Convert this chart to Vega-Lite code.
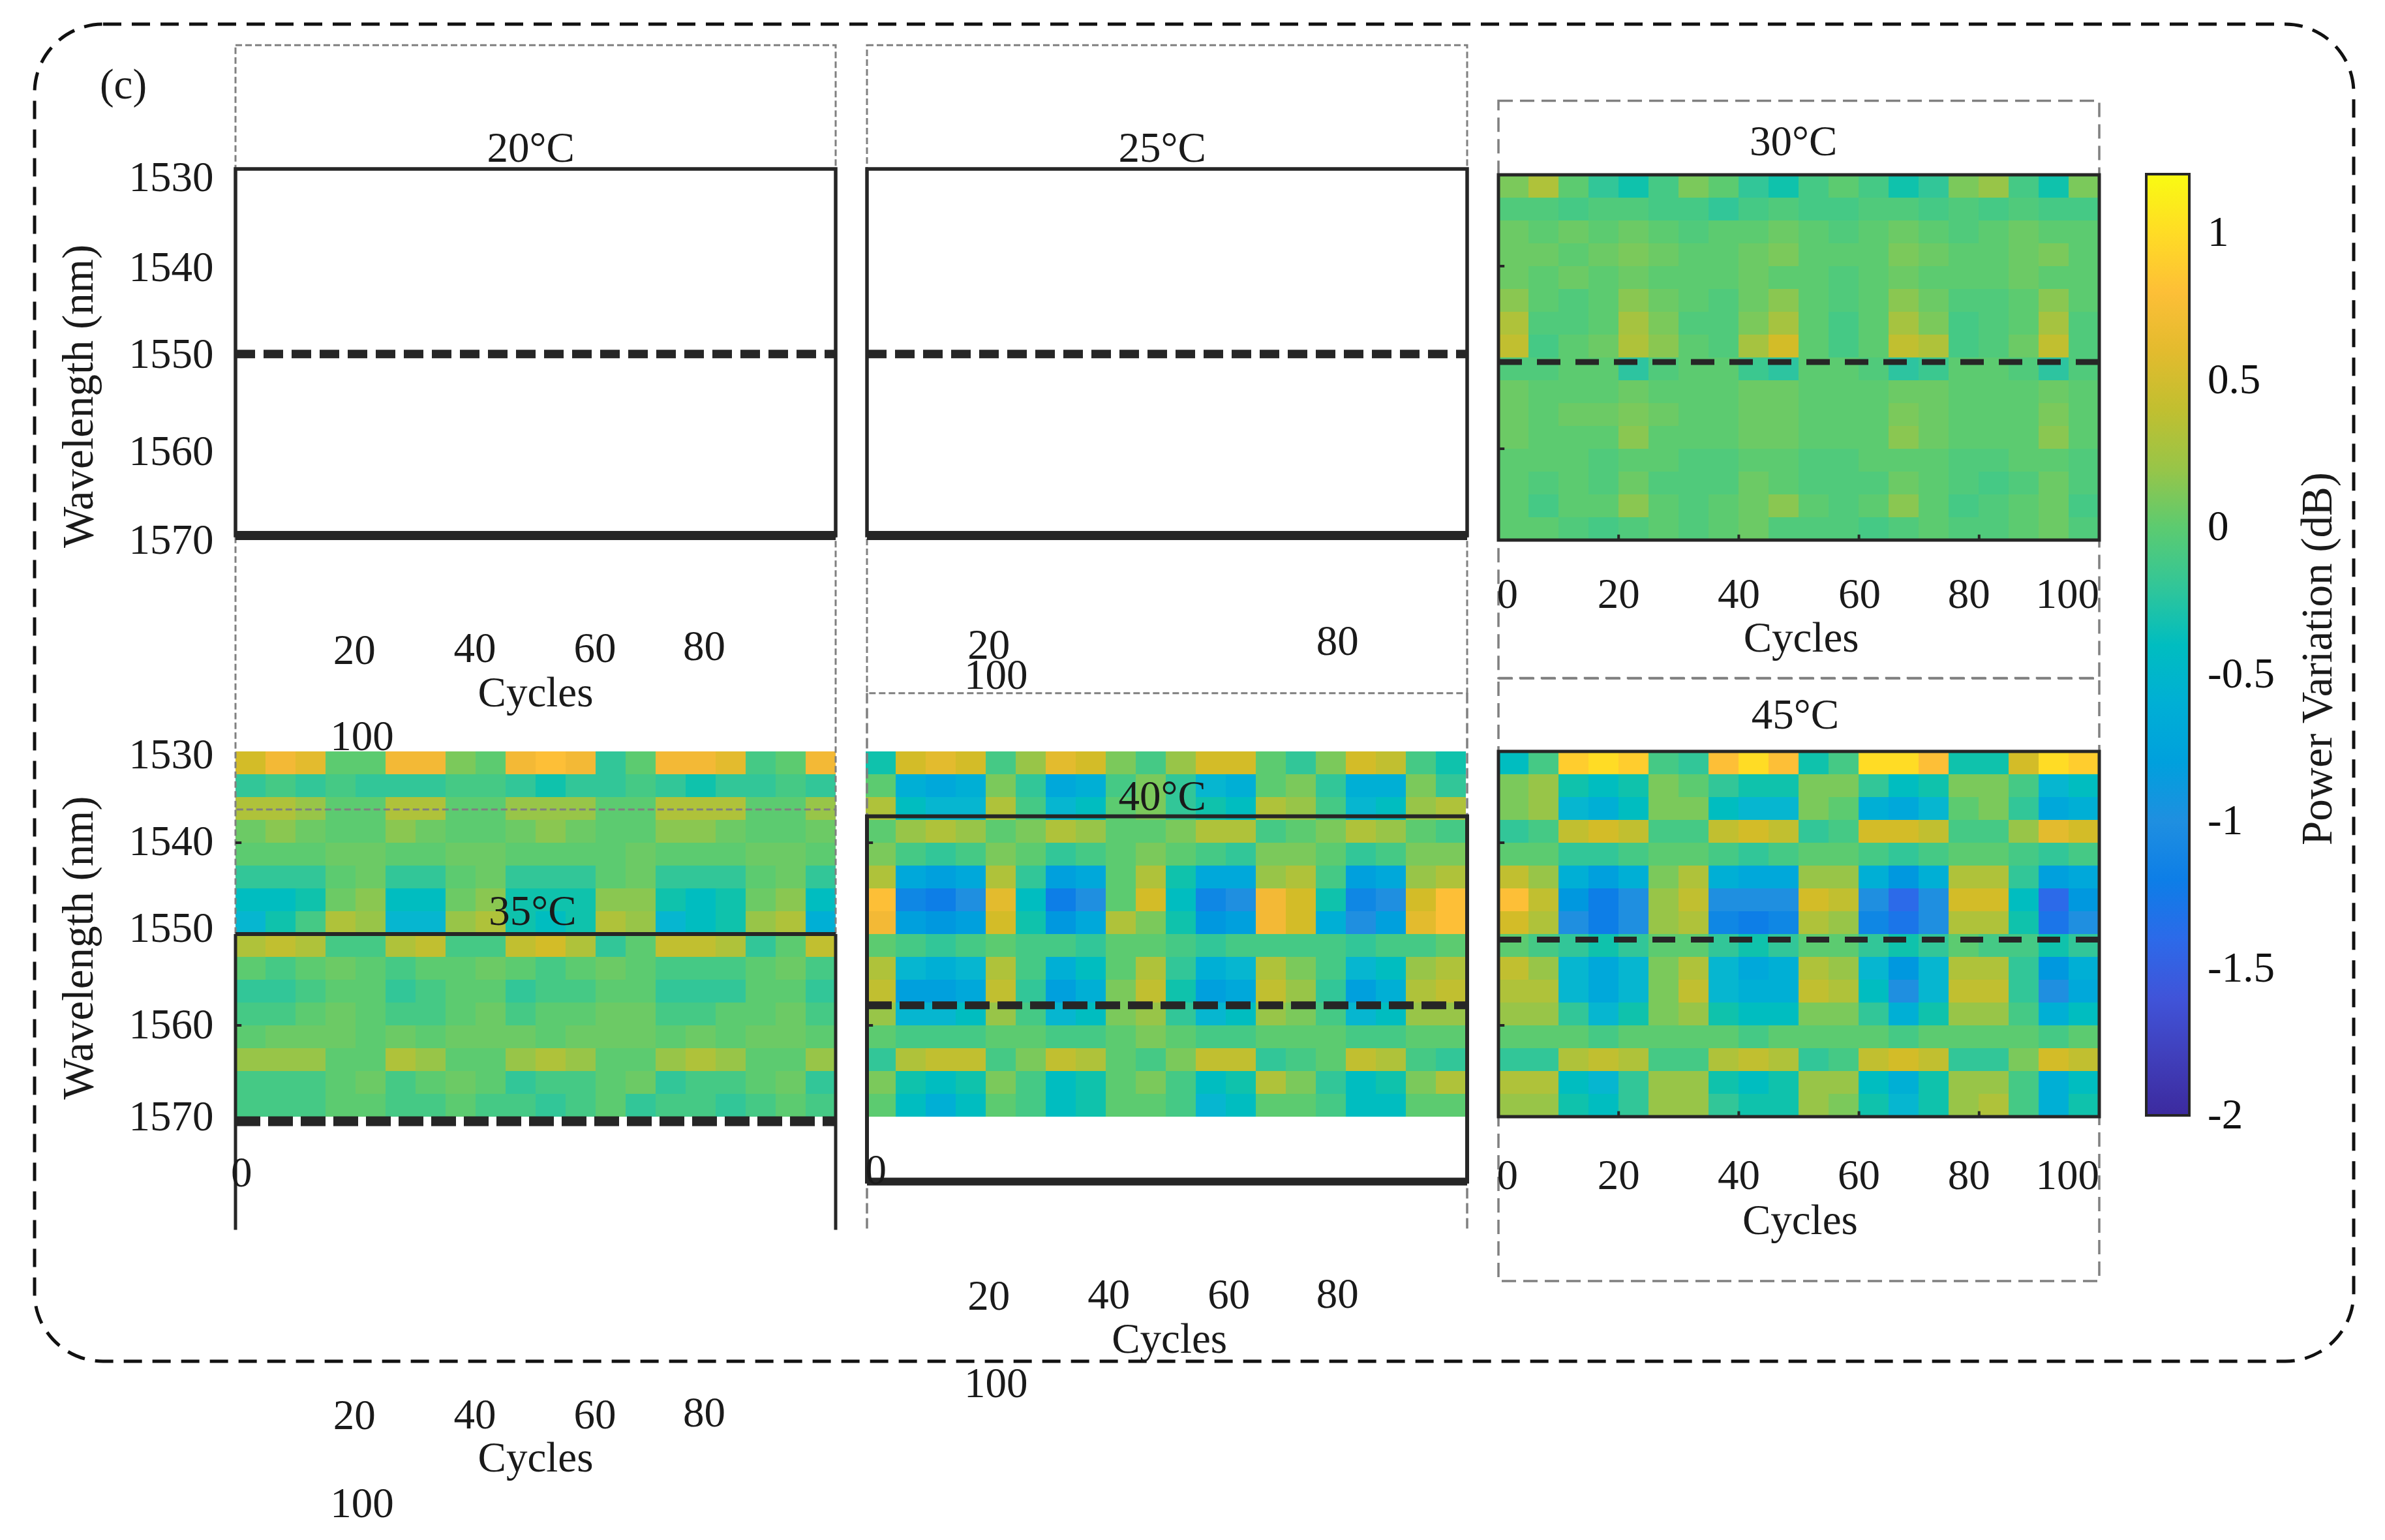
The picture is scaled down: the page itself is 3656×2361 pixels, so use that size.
{"$schema":"https://vega.github.io/schema/vega-lite/v6.json","width":3656,"height":2361,"padding":0,"autosize":{"type":"fit","contains":"padding"},"background":"white","config":{"view":{"stroke":null},"text":{"font":"Liberation Serif","fontSize":65,"color":"#1a1a1a"}},"resolve":{"scale":{"x":"independent","y":"independent","color":"independent"}},
"datasets":{
"h30":[
{"c":0,"w":1531,"v":0.1},{"c":5,"w":1531,"v":0.3},{"c":10,"w":1531,"v":0},{"c":15,"w":1531,"v":-0.2},{"c":20,"w":1531,"v":-0.3},{"c":25,"w":1531,"v":-0.1},{"c":30,"w":1531,"v":0.1},{"c":35,"w":1531,"v":0},{"c":40,"w":1531,"v":-0.2},{"c":45,"w":1531,"v":-0.3},{"c":50,"w":1531,"v":-0.1},{"c":55,"w":1531,"v":0},{"c":60,"w":1531,"v":-0.1},{"c":65,"w":1531,"v":-0.3},{"c":70,"w":1531,"v":-0.2},{"c":75,"w":1531,"v":0.1},{"c":80,"w":1531,"v":0.2},{"c":85,"w":1531,"v":-0.1},{"c":90,"w":1531,"v":-0.3},{"c":95,"w":1531,"v":0.1},
{"c":0,"w":1534,"v":-0.05},{"c":5,"w":1534,"v":-0.05},{"c":10,"w":1534,"v":-0.1},{"c":15,"w":1534,"v":-0.05},{"c":20,"w":1534,"v":-0.05},{"c":25,"w":1534,"v":-0.1},{"c":30,"w":1534,"v":-0.1},{"c":35,"w":1534,"v":-0.2},{"c":40,"w":1534,"v":-0.1},{"c":45,"w":1534,"v":-0.05},{"c":50,"w":1534,"v":-0.1},{"c":55,"w":1534,"v":-0.1},{"c":60,"w":1534,"v":-0.05},{"c":65,"w":1534,"v":-0.05},{"c":70,"w":1534,"v":-0.1},{"c":75,"w":1534,"v":-0.05},{"c":80,"w":1534,"v":-0.1},{"c":85,"w":1534,"v":-0.05},{"c":90,"w":1534,"v":-0.1},{"c":95,"w":1534,"v":-0.1},
{"c":0,"w":1536,"v":0.05},{"c":5,"w":1536,"v":0},{"c":10,"w":1536,"v":0.05},{"c":15,"w":1536,"v":0},{"c":20,"w":1536,"v":0.05},{"c":25,"w":1536,"v":0},{"c":30,"w":1536,"v":-0.05},{"c":35,"w":1536,"v":0},{"c":40,"w":1536,"v":0},{"c":45,"w":1536,"v":0.05},{"c":50,"w":1536,"v":0},{"c":55,"w":1536,"v":-0.05},{"c":60,"w":1536,"v":0},{"c":65,"w":1536,"v":0.05},{"c":70,"w":1536,"v":0},{"c":75,"w":1536,"v":-0.05},{"c":80,"w":1536,"v":0},{"c":85,"w":1536,"v":0.05},{"c":90,"w":1536,"v":0},{"c":95,"w":1536,"v":0},
{"c":0,"w":1539,"v":0.05},{"c":5,"w":1539,"v":0.05},{"c":10,"w":1539,"v":0},{"c":15,"w":1539,"v":0.05},{"c":20,"w":1539,"v":0.1},{"c":25,"w":1539,"v":0.05},{"c":30,"w":1539,"v":0},{"c":35,"w":1539,"v":0},{"c":40,"w":1539,"v":0.05},{"c":45,"w":1539,"v":0.1},{"c":50,"w":1539,"v":0},{"c":55,"w":1539,"v":0},{"c":60,"w":1539,"v":0},{"c":65,"w":1539,"v":0.1},{"c":70,"w":1539,"v":0.05},{"c":75,"w":1539,"v":0},{"c":80,"w":1539,"v":0},{"c":85,"w":1539,"v":0.05},{"c":90,"w":1539,"v":0.1},{"c":95,"w":1539,"v":0},
{"c":0,"w":1541,"v":0.05},{"c":5,"w":1541,"v":0},{"c":10,"w":1541,"v":0.05},{"c":15,"w":1541,"v":0},{"c":20,"w":1541,"v":0.05},{"c":25,"w":1541,"v":0},{"c":30,"w":1541,"v":0},{"c":35,"w":1541,"v":0},{"c":40,"w":1541,"v":0.05},{"c":45,"w":1541,"v":0},{"c":50,"w":1541,"v":0},{"c":55,"w":1541,"v":-0.05},{"c":60,"w":1541,"v":0},{"c":65,"w":1541,"v":0.05},{"c":70,"w":1541,"v":0},{"c":75,"w":1541,"v":0},{"c":80,"w":1541,"v":0},{"c":85,"w":1541,"v":0.05},{"c":90,"w":1541,"v":0},{"c":95,"w":1541,"v":0},
{"c":0,"w":1544,"v":0.15},{"c":5,"w":1544,"v":0},{"c":10,"w":1544,"v":-0.05},{"c":15,"w":1544,"v":0},{"c":20,"w":1544,"v":0.15},{"c":25,"w":1544,"v":0.05},{"c":30,"w":1544,"v":0},{"c":35,"w":1544,"v":-0.05},{"c":40,"w":1544,"v":0.05},{"c":45,"w":1544,"v":0.15},{"c":50,"w":1544,"v":0},{"c":55,"w":1544,"v":-0.05},{"c":60,"w":1544,"v":0},{"c":65,"w":1544,"v":0.15},{"c":70,"w":1544,"v":0.05},{"c":75,"w":1544,"v":-0.05},{"c":80,"w":1544,"v":-0.05},{"c":85,"w":1544,"v":0},{"c":90,"w":1544,"v":0.15},{"c":95,"w":1544,"v":0},
{"c":0,"w":1546,"v":0.3},{"c":5,"w":1546,"v":-0.05},{"c":10,"w":1546,"v":-0.05},{"c":15,"w":1546,"v":0},{"c":20,"w":1546,"v":0.25},{"c":25,"w":1546,"v":0.1},{"c":30,"w":1546,"v":-0.05},{"c":35,"w":1546,"v":-0.05},{"c":40,"w":1546,"v":0.1},{"c":45,"w":1546,"v":0.25},{"c":50,"w":1546,"v":0},{"c":55,"w":1546,"v":-0.1},{"c":60,"w":1546,"v":0},{"c":65,"w":1546,"v":0.25},{"c":70,"w":1546,"v":0.1},{"c":75,"w":1546,"v":-0.1},{"c":80,"w":1546,"v":-0.05},{"c":85,"w":1546,"v":0},{"c":90,"w":1546,"v":0.25},{"c":95,"w":1546,"v":-0.05},
{"c":0,"w":1549,"v":0.4},{"c":5,"w":1549,"v":-0.1},{"c":10,"w":1549,"v":0},{"c":15,"w":1549,"v":0.05},{"c":20,"w":1549,"v":0.3},{"c":25,"w":1549,"v":0.15},{"c":30,"w":1549,"v":0},{"c":35,"w":1549,"v":-0.05},{"c":40,"w":1549,"v":0.25},{"c":45,"w":1549,"v":0.5},{"c":50,"w":1549,"v":0},{"c":55,"w":1549,"v":-0.1},{"c":60,"w":1549,"v":0},{"c":65,"w":1549,"v":0.4},{"c":70,"w":1549,"v":0.3},{"c":75,"w":1549,"v":-0.1},{"c":80,"w":1549,"v":-0.05},{"c":85,"w":1549,"v":0.05},{"c":90,"w":1549,"v":0.4},{"c":95,"w":1549,"v":-0.05},
{"c":0,"w":1551,"v":-0.05},{"c":5,"w":1551,"v":-0.05},{"c":10,"w":1551,"v":0},{"c":15,"w":1551,"v":0},{"c":20,"w":1551,"v":-0.25},{"c":25,"w":1551,"v":-0.05},{"c":30,"w":1551,"v":0},{"c":35,"w":1551,"v":0},{"c":40,"w":1551,"v":-0.15},{"c":45,"w":1551,"v":-0.25},{"c":50,"w":1551,"v":0},{"c":55,"w":1551,"v":0},{"c":60,"w":1551,"v":-0.05},{"c":65,"w":1551,"v":-0.25},{"c":70,"w":1551,"v":-0.15},{"c":75,"w":1551,"v":0},{"c":80,"w":1551,"v":0},{"c":85,"w":1551,"v":-0.05},{"c":90,"w":1551,"v":-0.25},{"c":95,"w":1551,"v":-0.05},
{"c":0,"w":1554,"v":0.05},{"c":5,"w":1554,"v":0},{"c":10,"w":1554,"v":0},{"c":15,"w":1554,"v":0},{"c":20,"w":1554,"v":0.05},{"c":25,"w":1554,"v":0},{"c":30,"w":1554,"v":0},{"c":35,"w":1554,"v":0},{"c":40,"w":1554,"v":0.05},{"c":45,"w":1554,"v":0.05},{"c":50,"w":1554,"v":0},{"c":55,"w":1554,"v":0},{"c":60,"w":1554,"v":0},{"c":65,"w":1554,"v":0.05},{"c":70,"w":1554,"v":0.05},{"c":75,"w":1554,"v":0},{"c":80,"w":1554,"v":0},{"c":85,"w":1554,"v":0},{"c":90,"w":1554,"v":0.05},{"c":95,"w":1554,"v":0},
{"c":0,"w":1556,"v":0.05},{"c":5,"w":1556,"v":0},{"c":10,"w":1556,"v":0.05},{"c":15,"w":1556,"v":0.05},{"c":20,"w":1556,"v":0.1},{"c":25,"w":1556,"v":0.05},{"c":30,"w":1556,"v":0},{"c":35,"w":1556,"v":0},{"c":40,"w":1556,"v":0.05},{"c":45,"w":1556,"v":0.05},{"c":50,"w":1556,"v":0},{"c":55,"w":1556,"v":0},{"c":60,"w":1556,"v":0},{"c":65,"w":1556,"v":0.1},{"c":70,"w":1556,"v":0.05},{"c":75,"w":1556,"v":0},{"c":80,"w":1556,"v":0},{"c":85,"w":1556,"v":0},{"c":90,"w":1556,"v":0.1},{"c":95,"w":1556,"v":0},
{"c":0,"w":1559,"v":0.05},{"c":5,"w":1559,"v":0},{"c":10,"w":1559,"v":0},{"c":15,"w":1559,"v":0},{"c":20,"w":1559,"v":0.15},{"c":25,"w":1559,"v":0},{"c":30,"w":1559,"v":0},{"c":35,"w":1559,"v":0},{"c":40,"w":1559,"v":0.05},{"c":45,"w":1559,"v":0.05},{"c":50,"w":1559,"v":0},{"c":55,"w":1559,"v":0},{"c":60,"w":1559,"v":0},{"c":65,"w":1559,"v":0.15},{"c":70,"w":1559,"v":0.05},{"c":75,"w":1559,"v":0},{"c":80,"w":1559,"v":0},{"c":85,"w":1559,"v":0},{"c":90,"w":1559,"v":0.15},{"c":95,"w":1559,"v":0},
{"c":0,"w":1561,"v":0},{"c":5,"w":1561,"v":0},{"c":10,"w":1561,"v":0},{"c":15,"w":1561,"v":-0.05},{"c":20,"w":1561,"v":0},{"c":25,"w":1561,"v":0},{"c":30,"w":1561,"v":-0.05},{"c":35,"w":1561,"v":-0.05},{"c":40,"w":1561,"v":0},{"c":45,"w":1561,"v":0},{"c":50,"w":1561,"v":-0.05},{"c":55,"w":1561,"v":-0.05},{"c":60,"w":1561,"v":0},{"c":65,"w":1561,"v":0},{"c":70,"w":1561,"v":0},{"c":75,"w":1561,"v":-0.05},{"c":80,"w":1561,"v":-0.05},{"c":85,"w":1561,"v":0},{"c":90,"w":1561,"v":0},{"c":95,"w":1561,"v":-0.05},
{"c":0,"w":1564,"v":0},{"c":5,"w":1564,"v":-0.05},{"c":10,"w":1564,"v":0},{"c":15,"w":1564,"v":-0.05},{"c":20,"w":1564,"v":0.05},{"c":25,"w":1564,"v":-0.05},{"c":30,"w":1564,"v":-0.05},{"c":35,"w":1564,"v":-0.05},{"c":40,"w":1564,"v":0.05},{"c":45,"w":1564,"v":0},{"c":50,"w":1564,"v":-0.05},{"c":55,"w":1564,"v":-0.05},{"c":60,"w":1564,"v":-0.05},{"c":65,"w":1564,"v":0.05},{"c":70,"w":1564,"v":0},{"c":75,"w":1564,"v":-0.05},{"c":80,"w":1564,"v":-0.1},{"c":85,"w":1564,"v":-0.05},{"c":90,"w":1564,"v":0.05},{"c":95,"w":1564,"v":-0.05},
{"c":0,"w":1566,"v":0},{"c":5,"w":1566,"v":-0.1},{"c":10,"w":1566,"v":0},{"c":15,"w":1566,"v":0},{"c":20,"w":1566,"v":0.15},{"c":25,"w":1566,"v":0},{"c":30,"w":1566,"v":-0.05},{"c":35,"w":1566,"v":0},{"c":40,"w":1566,"v":0.05},{"c":45,"w":1566,"v":0.15},{"c":50,"w":1566,"v":0},{"c":55,"w":1566,"v":-0.05},{"c":60,"w":1566,"v":0},{"c":65,"w":1566,"v":0.15},{"c":70,"w":1566,"v":0},{"c":75,"w":1566,"v":-0.1},{"c":80,"w":1566,"v":-0.05},{"c":85,"w":1566,"v":0},{"c":90,"w":1566,"v":0.05},{"c":95,"w":1566,"v":-0.1},
{"c":0,"w":1569,"v":0},{"c":5,"w":1569,"v":0},{"c":10,"w":1569,"v":-0.05},{"c":15,"w":1569,"v":-0.1},{"c":20,"w":1569,"v":-0.05},{"c":25,"w":1569,"v":0},{"c":30,"w":1569,"v":-0.05},{"c":35,"w":1569,"v":0},{"c":40,"w":1569,"v":0.05},{"c":45,"w":1569,"v":-0.05},{"c":50,"w":1569,"v":-0.05},{"c":55,"w":1569,"v":-0.05},{"c":60,"w":1569,"v":-0.1},{"c":65,"w":1569,"v":-0.05},{"c":70,"w":1569,"v":0},{"c":75,"w":1569,"v":-0.05},{"c":80,"w":1569,"v":-0.05},{"c":85,"w":1569,"v":0},{"c":90,"w":1569,"v":0.05},{"c":95,"w":1569,"v":-0.05}
],
"h35":[
{"c":0,"w":1531,"v":0.5},{"c":5,"w":1531,"v":0.7},{"c":10,"w":1531,"v":0.6},{"c":15,"w":1531,"v":0},{"c":20,"w":1531,"v":0},{"c":25,"w":1531,"v":0.7},{"c":30,"w":1531,"v":0.7},{"c":35,"w":1531,"v":0.1},{"c":40,"w":1531,"v":0},{"c":45,"w":1531,"v":0.7},{"c":50,"w":1531,"v":0.8},{"c":55,"w":1531,"v":0.7},{"c":60,"w":1531,"v":-0.2},{"c":65,"w":1531,"v":0},{"c":70,"w":1531,"v":0.7},{"c":75,"w":1531,"v":0.7},{"c":80,"w":1531,"v":0.6},{"c":85,"w":1531,"v":-0.1},{"c":90,"w":1531,"v":0},{"c":95,"w":1531,"v":0.7},
{"c":0,"w":1534,"v":-0.2},{"c":5,"w":1534,"v":-0.1},{"c":10,"w":1534,"v":-0.2},{"c":15,"w":1534,"v":-0.1},{"c":20,"w":1534,"v":-0.2},{"c":25,"w":1534,"v":-0.2},{"c":30,"w":1534,"v":-0.2},{"c":35,"w":1534,"v":-0.1},{"c":40,"w":1534,"v":-0.1},{"c":45,"w":1534,"v":-0.2},{"c":50,"w":1534,"v":-0.3},{"c":55,"w":1534,"v":-0.2},{"c":60,"w":1534,"v":-0.2},{"c":65,"w":1534,"v":-0.1},{"c":70,"w":1534,"v":-0.2},{"c":75,"w":1534,"v":-0.3},{"c":80,"w":1534,"v":-0.2},{"c":85,"w":1534,"v":-0.2},{"c":90,"w":1534,"v":-0.1},{"c":95,"w":1534,"v":-0.2},
{"c":0,"w":1536,"v":0.3},{"c":5,"w":1536,"v":0.3},{"c":10,"w":1536,"v":0.2},{"c":15,"w":1536,"v":0},{"c":20,"w":1536,"v":0},{"c":25,"w":1536,"v":0.3},{"c":30,"w":1536,"v":0.3},{"c":35,"w":1536,"v":0},{"c":40,"w":1536,"v":0},{"c":45,"w":1536,"v":0.2},{"c":50,"w":1536,"v":0.2},{"c":55,"w":1536,"v":0.2},{"c":60,"w":1536,"v":0},{"c":65,"w":1536,"v":0},{"c":70,"w":1536,"v":0.3},{"c":75,"w":1536,"v":0.3},{"c":80,"w":1536,"v":0.3},{"c":85,"w":1536,"v":0},{"c":90,"w":1536,"v":0},{"c":95,"w":1536,"v":0.2},
{"c":0,"w":1539,"v":0.05},{"c":5,"w":1539,"v":0.15},{"c":10,"w":1539,"v":0.05},{"c":15,"w":1539,"v":0},{"c":20,"w":1539,"v":0},{"c":25,"w":1539,"v":0.15},{"c":30,"w":1539,"v":0.05},{"c":35,"w":1539,"v":0},{"c":40,"w":1539,"v":0},{"c":45,"w":1539,"v":0.05},{"c":50,"w":1539,"v":0.15},{"c":55,"w":1539,"v":0.05},{"c":60,"w":1539,"v":0},{"c":65,"w":1539,"v":0},{"c":70,"w":1539,"v":0.15},{"c":75,"w":1539,"v":0.15},{"c":80,"w":1539,"v":0.05},{"c":85,"w":1539,"v":0},{"c":90,"w":1539,"v":0},{"c":95,"w":1539,"v":0.05},
{"c":0,"w":1541,"v":0},{"c":5,"w":1541,"v":0},{"c":10,"w":1541,"v":0},{"c":15,"w":1541,"v":0.05},{"c":20,"w":1541,"v":0.05},{"c":25,"w":1541,"v":0},{"c":30,"w":1541,"v":0},{"c":35,"w":1541,"v":0.05},{"c":40,"w":1541,"v":0.05},{"c":45,"w":1541,"v":0},{"c":50,"w":1541,"v":0},{"c":55,"w":1541,"v":0},{"c":60,"w":1541,"v":0},{"c":65,"w":1541,"v":0.05},{"c":70,"w":1541,"v":0},{"c":75,"w":1541,"v":0},{"c":80,"w":1541,"v":0},{"c":85,"w":1541,"v":0.05},{"c":90,"w":1541,"v":0.05},{"c":95,"w":1541,"v":0},
{"c":0,"w":1544,"v":-0.2},{"c":5,"w":1544,"v":-0.2},{"c":10,"w":1544,"v":-0.2},{"c":15,"w":1544,"v":0},{"c":20,"w":1544,"v":0.05},{"c":25,"w":1544,"v":-0.2},{"c":30,"w":1544,"v":-0.2},{"c":35,"w":1544,"v":0},{"c":40,"w":1544,"v":0.05},{"c":45,"w":1544,"v":-0.2},{"c":50,"w":1544,"v":-0.2},{"c":55,"w":1544,"v":-0.2},{"c":60,"w":1544,"v":0},{"c":65,"w":1544,"v":0.05},{"c":70,"w":1544,"v":-0.2},{"c":75,"w":1544,"v":-0.2},{"c":80,"w":1544,"v":-0.2},{"c":85,"w":1544,"v":0},{"c":90,"w":1544,"v":0.05},{"c":95,"w":1544,"v":-0.2},
{"c":0,"w":1546,"v":-0.4},{"c":5,"w":1546,"v":-0.4},{"c":10,"w":1546,"v":-0.3},{"c":15,"w":1546,"v":0.05},{"c":20,"w":1546,"v":0.15},{"c":25,"w":1546,"v":-0.4},{"c":30,"w":1546,"v":-0.4},{"c":35,"w":1546,"v":0.05},{"c":40,"w":1546,"v":0.15},{"c":45,"w":1546,"v":-0.3},{"c":50,"w":1546,"v":-0.3},{"c":55,"w":1546,"v":-0.3},{"c":60,"w":1546,"v":0.15},{"c":65,"w":1546,"v":0.15},{"c":70,"w":1546,"v":-0.3},{"c":75,"w":1546,"v":-0.4},{"c":80,"w":1546,"v":-0.3},{"c":85,"w":1546,"v":0.05},{"c":90,"w":1546,"v":0.15},{"c":95,"w":1546,"v":-0.4},
{"c":0,"w":1549,"v":-0.5},{"c":5,"w":1549,"v":-0.3},{"c":10,"w":1549,"v":-0.1},{"c":15,"w":1549,"v":0.3},{"c":20,"w":1549,"v":0.2},{"c":25,"w":1549,"v":-0.5},{"c":30,"w":1549,"v":-0.5},{"c":35,"w":1549,"v":0.2},{"c":40,"w":1549,"v":0.3},{"c":45,"w":1549,"v":-0.3},{"c":50,"w":1549,"v":-0.4},{"c":55,"w":1549,"v":-0.3},{"c":60,"w":1549,"v":0.3},{"c":65,"w":1549,"v":0.2},{"c":70,"w":1549,"v":-0.5},{"c":75,"w":1549,"v":-0.4},{"c":80,"w":1549,"v":-0.3},{"c":85,"w":1549,"v":0.2},{"c":90,"w":1549,"v":0.3},{"c":95,"w":1549,"v":-0.6},
{"c":0,"w":1551,"v":0.3},{"c":5,"w":1551,"v":0.4},{"c":10,"w":1551,"v":0.3},{"c":15,"w":1551,"v":-0.1},{"c":20,"w":1551,"v":-0.1},{"c":25,"w":1551,"v":0.3},{"c":30,"w":1551,"v":0.4},{"c":35,"w":1551,"v":-0.1},{"c":40,"w":1551,"v":-0.1},{"c":45,"w":1551,"v":0.4},{"c":50,"w":1551,"v":0.5},{"c":55,"w":1551,"v":0.3},{"c":60,"w":1551,"v":-0.2},{"c":65,"w":1551,"v":0},{"c":70,"w":1551,"v":0.4},{"c":75,"w":1551,"v":0.4},{"c":80,"w":1551,"v":0.3},{"c":85,"w":1551,"v":-0.2},{"c":90,"w":1551,"v":0},{"c":95,"w":1551,"v":0.4},
{"c":0,"w":1554,"v":0},{"c":5,"w":1554,"v":-0.1},{"c":10,"w":1554,"v":0},{"c":15,"w":1554,"v":0.05},{"c":20,"w":1554,"v":0},{"c":25,"w":1554,"v":-0.1},{"c":30,"w":1554,"v":0},{"c":35,"w":1554,"v":0},{"c":40,"w":1554,"v":0.05},{"c":45,"w":1554,"v":0},{"c":50,"w":1554,"v":-0.1},{"c":55,"w":1554,"v":0},{"c":60,"w":1554,"v":0.05},{"c":65,"w":1554,"v":0},{"c":70,"w":1554,"v":-0.1},{"c":75,"w":1554,"v":-0.1},{"c":80,"w":1554,"v":-0.1},{"c":85,"w":1554,"v":0},{"c":90,"w":1554,"v":0.05},{"c":95,"w":1554,"v":-0.1},
{"c":0,"w":1556,"v":-0.2},{"c":5,"w":1556,"v":-0.2},{"c":10,"w":1556,"v":-0.1},{"c":15,"w":1556,"v":0},{"c":20,"w":1556,"v":0},{"c":25,"w":1556,"v":-0.2},{"c":30,"w":1556,"v":-0.1},{"c":35,"w":1556,"v":0},{"c":40,"w":1556,"v":0},{"c":45,"w":1556,"v":-0.2},{"c":50,"w":1556,"v":-0.1},{"c":55,"w":1556,"v":-0.1},{"c":60,"w":1556,"v":0},{"c":65,"w":1556,"v":0},{"c":70,"w":1556,"v":-0.2},{"c":75,"w":1556,"v":-0.2},{"c":80,"w":1556,"v":-0.2},{"c":85,"w":1556,"v":0},{"c":90,"w":1556,"v":0},{"c":95,"w":1556,"v":-0.2},
{"c":0,"w":1559,"v":-0.1},{"c":5,"w":1559,"v":-0.1},{"c":10,"w":1559,"v":0},{"c":15,"w":1559,"v":0.05},{"c":20,"w":1559,"v":0},{"c":25,"w":1559,"v":-0.1},{"c":30,"w":1559,"v":-0.1},{"c":35,"w":1559,"v":0},{"c":40,"w":1559,"v":0.05},{"c":45,"w":1559,"v":-0.1},{"c":50,"w":1559,"v":0},{"c":55,"w":1559,"v":0},{"c":60,"w":1559,"v":0.05},{"c":65,"w":1559,"v":0.05},{"c":70,"w":1559,"v":-0.1},{"c":75,"w":1559,"v":-0.1},{"c":80,"w":1559,"v":0},{"c":85,"w":1559,"v":0},{"c":90,"w":1559,"v":0.05},{"c":95,"w":1559,"v":-0.1},
{"c":0,"w":1561,"v":0},{"c":5,"w":1561,"v":0.05},{"c":10,"w":1561,"v":0.05},{"c":15,"w":1561,"v":0.05},{"c":20,"w":1561,"v":0},{"c":25,"w":1561,"v":0.05},{"c":30,"w":1561,"v":0},{"c":35,"w":1561,"v":0.05},{"c":40,"w":1561,"v":0.05},{"c":45,"w":1561,"v":0.05},{"c":50,"w":1561,"v":0},{"c":55,"w":1561,"v":0.05},{"c":60,"w":1561,"v":0.05},{"c":65,"w":1561,"v":0.05},{"c":70,"w":1561,"v":0},{"c":75,"w":1561,"v":0.05},{"c":80,"w":1561,"v":0},{"c":85,"w":1561,"v":0.05},{"c":90,"w":1561,"v":0.05},{"c":95,"w":1561,"v":0},
{"c":0,"w":1564,"v":0.2},{"c":5,"w":1564,"v":0.2},{"c":10,"w":1564,"v":0.2},{"c":15,"w":1564,"v":0},{"c":20,"w":1564,"v":0},{"c":25,"w":1564,"v":0.3},{"c":30,"w":1564,"v":0.2},{"c":35,"w":1564,"v":0},{"c":40,"w":1564,"v":0},{"c":45,"w":1564,"v":0.2},{"c":50,"w":1564,"v":0.3},{"c":55,"w":1564,"v":0.2},{"c":60,"w":1564,"v":0},{"c":65,"w":1564,"v":0},{"c":70,"w":1564,"v":0.2},{"c":75,"w":1564,"v":0.3},{"c":80,"w":1564,"v":0.2},{"c":85,"w":1564,"v":0},{"c":90,"w":1564,"v":0},{"c":95,"w":1564,"v":0.2},
{"c":0,"w":1566,"v":-0.1},{"c":5,"w":1566,"v":-0.1},{"c":10,"w":1566,"v":-0.1},{"c":15,"w":1566,"v":0},{"c":20,"w":1566,"v":0.05},{"c":25,"w":1566,"v":-0.1},{"c":30,"w":1566,"v":0},{"c":35,"w":1566,"v":0.05},{"c":40,"w":1566,"v":0},{"c":45,"w":1566,"v":-0.2},{"c":50,"w":1566,"v":-0.1},{"c":55,"w":1566,"v":-0.1},{"c":60,"w":1566,"v":0},{"c":65,"w":1566,"v":0.05},{"c":70,"w":1566,"v":-0.2},{"c":75,"w":1566,"v":-0.1},{"c":80,"w":1566,"v":-0.1},{"c":85,"w":1566,"v":0},{"c":90,"w":1566,"v":0.05},{"c":95,"w":1566,"v":-0.2},
{"c":0,"w":1569,"v":-0.1},{"c":5,"w":1569,"v":-0.1},{"c":10,"w":1569,"v":-0.1},{"c":15,"w":1569,"v":0},{"c":20,"w":1569,"v":0},{"c":25,"w":1569,"v":-0.1},{"c":30,"w":1569,"v":-0.1},{"c":35,"w":1569,"v":0},{"c":40,"w":1569,"v":-0.1},{"c":45,"w":1569,"v":-0.1},{"c":50,"w":1569,"v":-0.2},{"c":55,"w":1569,"v":-0.1},{"c":60,"w":1569,"v":0},{"c":65,"w":1569,"v":-0.2},{"c":70,"w":1569,"v":-0.1},{"c":75,"w":1569,"v":-0.1},{"c":80,"w":1569,"v":-0.2},{"c":85,"w":1569,"v":-0.1},{"c":90,"w":1569,"v":0},{"c":95,"w":1569,"v":-0.1}
],
"h40":[
{"c":0,"w":1531,"v":-0.3},{"c":5,"w":1531,"v":0.5},{"c":10,"w":1531,"v":0.6},{"c":15,"w":1531,"v":0.5},{"c":20,"w":1531,"v":-0.1},{"c":25,"w":1531,"v":0.2},{"c":30,"w":1531,"v":0.6},{"c":35,"w":1531,"v":0.5},{"c":40,"w":1531,"v":0.1},{"c":45,"w":1531,"v":-0.1},{"c":50,"w":1531,"v":0.2},{"c":55,"w":1531,"v":0.5},{"c":60,"w":1531,"v":0.5},{"c":65,"w":1531,"v":0},{"c":70,"w":1531,"v":-0.2},{"c":75,"w":1531,"v":0.1},{"c":80,"w":1531,"v":0.5},{"c":85,"w":1531,"v":0.4},{"c":90,"w":1531,"v":-0.1},{"c":95,"w":1531,"v":-0.3},
{"c":0,"w":1534,"v":0},{"c":5,"w":1534,"v":-0.6},{"c":10,"w":1534,"v":-0.7},{"c":15,"w":1534,"v":-0.6},{"c":20,"w":1534,"v":0.1},{"c":25,"w":1534,"v":-0.2},{"c":30,"w":1534,"v":-0.7},{"c":35,"w":1534,"v":-0.6},{"c":40,"w":1534,"v":-0.1},{"c":45,"w":1534,"v":0.1},{"c":50,"w":1534,"v":-0.2},{"c":55,"w":1534,"v":-0.5},{"c":60,"w":1534,"v":-0.6},{"c":65,"w":1534,"v":0},{"c":70,"w":1534,"v":0.1},{"c":75,"w":1534,"v":-0.2},{"c":80,"w":1534,"v":-0.6},{"c":85,"w":1534,"v":-0.6},{"c":90,"w":1534,"v":0.1},{"c":95,"w":1534,"v":-0.2},
{"c":0,"w":1536,"v":0.3},{"c":5,"w":1536,"v":-0.4},{"c":10,"w":1536,"v":-0.5},{"c":15,"w":1536,"v":-0.5},{"c":20,"w":1536,"v":0.3},{"c":25,"w":1536,"v":-0.1},{"c":30,"w":1536,"v":-0.5},{"c":35,"w":1536,"v":-0.4},{"c":40,"w":1536,"v":0},{"c":45,"w":1536,"v":0.1},{"c":50,"w":1536,"v":-0.2},{"c":55,"w":1536,"v":-0.3},{"c":60,"w":1536,"v":-0.4},{"c":65,"w":1536,"v":0.3},{"c":70,"w":1536,"v":0.2},{"c":75,"w":1536,"v":-0.1},{"c":80,"w":1536,"v":-0.5},{"c":85,"w":1536,"v":-0.4},{"c":90,"w":1536,"v":0.2},{"c":95,"w":1536,"v":0.3},
{"c":0,"w":1539,"v":0},{"c":5,"w":1539,"v":0.2},{"c":10,"w":1539,"v":0.3},{"c":15,"w":1539,"v":0.2},{"c":20,"w":1539,"v":0},{"c":25,"w":1539,"v":0.1},{"c":30,"w":1539,"v":0.3},{"c":35,"w":1539,"v":0.2},{"c":40,"w":1539,"v":0},{"c":45,"w":1539,"v":0},{"c":50,"w":1539,"v":0.1},{"c":55,"w":1539,"v":0.3},{"c":60,"w":1539,"v":0.3},{"c":65,"w":1539,"v":-0.1},{"c":70,"w":1539,"v":0},{"c":75,"w":1539,"v":0.1},{"c":80,"w":1539,"v":0.3},{"c":85,"w":1539,"v":0.2},{"c":90,"w":1539,"v":0},{"c":95,"w":1539,"v":-0.1},
{"c":0,"w":1541,"v":0.1},{"c":5,"w":1541,"v":-0.1},{"c":10,"w":1541,"v":-0.2},{"c":15,"w":1541,"v":-0.1},{"c":20,"w":1541,"v":0.1},{"c":25,"w":1541,"v":0},{"c":30,"w":1541,"v":-0.2},{"c":35,"w":1541,"v":-0.1},{"c":40,"w":1541,"v":0},{"c":45,"w":1541,"v":0.1},{"c":50,"w":1541,"v":0},{"c":55,"w":1541,"v":-0.1},{"c":60,"w":1541,"v":-0.2},{"c":65,"w":1541,"v":0.1},{"c":70,"w":1541,"v":0.1},{"c":75,"w":1541,"v":0},{"c":80,"w":1541,"v":-0.2},{"c":85,"w":1541,"v":-0.1},{"c":90,"w":1541,"v":0.1},{"c":95,"w":1541,"v":0.1},
{"c":0,"w":1544,"v":0.3},{"c":5,"w":1544,"v":-0.7},{"c":10,"w":1544,"v":-0.8},{"c":15,"w":1544,"v":-0.7},{"c":20,"w":1544,"v":0.3},{"c":25,"w":1544,"v":-0.2},{"c":30,"w":1544,"v":-0.8},{"c":35,"w":1544,"v":-0.7},{"c":40,"w":1544,"v":0},{"c":45,"w":1544,"v":0.3},{"c":50,"w":1544,"v":-0.3},{"c":55,"w":1544,"v":-0.7},{"c":60,"w":1544,"v":-0.7},{"c":65,"w":1544,"v":0.2},{"c":70,"w":1544,"v":0.3},{"c":75,"w":1544,"v":-0.1},{"c":80,"w":1544,"v":-0.8},{"c":85,"w":1544,"v":-0.7},{"c":90,"w":1544,"v":0.2},{"c":95,"w":1544,"v":0.3},
{"c":0,"w":1546,"v":0.8},{"c":5,"w":1546,"v":-1.1},{"c":10,"w":1546,"v":-1.2},{"c":15,"w":1546,"v":-1},{"c":20,"w":1546,"v":0.6},{"c":25,"w":1546,"v":-0.4},{"c":30,"w":1546,"v":-1.2},{"c":35,"w":1546,"v":-1},{"c":40,"w":1546,"v":0},{"c":45,"w":1546,"v":0.5},{"c":50,"w":1546,"v":-0.4},{"c":55,"w":1546,"v":-1.1},{"c":60,"w":1546,"v":-1},{"c":65,"w":1546,"v":0.7},{"c":70,"w":1546,"v":0.5},{"c":75,"w":1546,"v":-0.3},{"c":80,"w":1546,"v":-1.1},{"c":85,"w":1546,"v":-1},{"c":90,"w":1546,"v":0.5},{"c":95,"w":1546,"v":0.8},
{"c":0,"w":1549,"v":0.7},{"c":5,"w":1549,"v":-0.8},{"c":10,"w":1549,"v":-0.9},{"c":15,"w":1549,"v":-0.8},{"c":20,"w":1549,"v":0.5},{"c":25,"w":1549,"v":-0.3},{"c":30,"w":1549,"v":-0.9},{"c":35,"w":1549,"v":-0.7},{"c":40,"w":1549,"v":0.3},{"c":45,"w":1549,"v":0.1},{"c":50,"w":1549,"v":-0.3},{"c":55,"w":1549,"v":-0.9},{"c":60,"w":1549,"v":-0.8},{"c":65,"w":1549,"v":0.7},{"c":70,"w":1549,"v":0.5},{"c":75,"w":1549,"v":-0.6},{"c":80,"w":1549,"v":-1},{"c":85,"w":1549,"v":-0.8},{"c":90,"w":1549,"v":0.6},{"c":95,"w":1549,"v":0.8},
{"c":0,"w":1551,"v":0},{"c":5,"w":1551,"v":-0.1},{"c":10,"w":1551,"v":-0.2},{"c":15,"w":1551,"v":-0.1},{"c":20,"w":1551,"v":0},{"c":25,"w":1551,"v":-0.1},{"c":30,"w":1551,"v":-0.1},{"c":35,"w":1551,"v":-0.2},{"c":40,"w":1551,"v":0},{"c":45,"w":1551,"v":0},{"c":50,"w":1551,"v":-0.1},{"c":55,"w":1551,"v":-0.2},{"c":60,"w":1551,"v":-0.1},{"c":65,"w":1551,"v":-0.1},{"c":70,"w":1551,"v":-0.1},{"c":75,"w":1551,"v":-0.1},{"c":80,"w":1551,"v":-0.2},{"c":85,"w":1551,"v":-0.1},{"c":90,"w":1551,"v":-0.1},{"c":95,"w":1551,"v":0},
{"c":0,"w":1554,"v":0.3},{"c":5,"w":1554,"v":-0.5},{"c":10,"w":1554,"v":-0.6},{"c":15,"w":1554,"v":-0.5},{"c":20,"w":1554,"v":0.3},{"c":25,"w":1554,"v":-0.1},{"c":30,"w":1554,"v":-0.6},{"c":35,"w":1554,"v":-0.4},{"c":40,"w":1554,"v":0},{"c":45,"w":1554,"v":0.3},{"c":50,"w":1554,"v":-0.2},{"c":55,"w":1554,"v":-0.6},{"c":60,"w":1554,"v":-0.5},{"c":65,"w":1554,"v":0.3},{"c":70,"w":1554,"v":0.1},{"c":75,"w":1554,"v":-0.1},{"c":80,"w":1554,"v":-0.5},{"c":85,"w":1554,"v":-0.4},{"c":90,"w":1554,"v":0.2},{"c":95,"w":1554,"v":0.3},
{"c":0,"w":1556,"v":0.4},{"c":5,"w":1556,"v":-0.8},{"c":10,"w":1556,"v":-0.8},{"c":15,"w":1556,"v":-0.7},{"c":20,"w":1556,"v":0.4},{"c":25,"w":1556,"v":-0.2},{"c":30,"w":1556,"v":-0.8},{"c":35,"w":1556,"v":-0.6},{"c":40,"w":1556,"v":0.1},{"c":45,"w":1556,"v":0.4},{"c":50,"w":1556,"v":-0.3},{"c":55,"w":1556,"v":-0.8},{"c":60,"w":1556,"v":-0.7},{"c":65,"w":1556,"v":0.4},{"c":70,"w":1556,"v":0.2},{"c":75,"w":1556,"v":-0.2},{"c":80,"w":1556,"v":-0.8},{"c":85,"w":1556,"v":-0.6},{"c":90,"w":1556,"v":0.3},{"c":95,"w":1556,"v":0.4},
{"c":0,"w":1559,"v":0.2},{"c":5,"w":1559,"v":-0.5},{"c":10,"w":1559,"v":-0.5},{"c":15,"w":1559,"v":-0.4},{"c":20,"w":1559,"v":0.2},{"c":25,"w":1559,"v":-0.1},{"c":30,"w":1559,"v":-0.5},{"c":35,"w":1559,"v":-0.4},{"c":40,"w":1559,"v":0.1},{"c":45,"w":1559,"v":0.2},{"c":50,"w":1559,"v":-0.2},{"c":55,"w":1559,"v":-0.5},{"c":60,"w":1559,"v":-0.4},{"c":65,"w":1559,"v":0.2},{"c":70,"w":1559,"v":0.1},{"c":75,"w":1559,"v":-0.1},{"c":80,"w":1559,"v":-0.5},{"c":85,"w":1559,"v":-0.4},{"c":90,"w":1559,"v":0.2},{"c":95,"w":1559,"v":0.2},
{"c":0,"w":1561,"v":0},{"c":5,"w":1561,"v":-0.1},{"c":10,"w":1561,"v":-0.1},{"c":15,"w":1561,"v":-0.1},{"c":20,"w":1561,"v":0},{"c":25,"w":1561,"v":0},{"c":30,"w":1561,"v":-0.1},{"c":35,"w":1561,"v":-0.1},{"c":40,"w":1561,"v":0},{"c":45,"w":1561,"v":0.1},{"c":50,"w":1561,"v":0},{"c":55,"w":1561,"v":-0.1},{"c":60,"w":1561,"v":-0.1},{"c":65,"w":1561,"v":0},{"c":70,"w":1561,"v":0},{"c":75,"w":1561,"v":0},{"c":80,"w":1561,"v":-0.1},{"c":85,"w":1561,"v":-0.1},{"c":90,"w":1561,"v":0},{"c":95,"w":1561,"v":0},
{"c":0,"w":1564,"v":-0.2},{"c":5,"w":1564,"v":0.3},{"c":10,"w":1564,"v":0.4},{"c":15,"w":1564,"v":0.4},{"c":20,"w":1564,"v":-0.1},{"c":25,"w":1564,"v":0.1},{"c":30,"w":1564,"v":0.4},{"c":35,"w":1564,"v":0.3},{"c":40,"w":1564,"v":0},{"c":45,"w":1564,"v":-0.1},{"c":50,"w":1564,"v":0.1},{"c":55,"w":1564,"v":0.4},{"c":60,"w":1564,"v":0.4},{"c":65,"w":1564,"v":-0.2},{"c":70,"w":1564,"v":-0.1},{"c":75,"w":1564,"v":0},{"c":80,"w":1564,"v":0.4},{"c":85,"w":1564,"v":0.3},{"c":90,"w":1564,"v":-0.1},{"c":95,"w":1564,"v":-0.2},
{"c":0,"w":1566,"v":0.1},{"c":5,"w":1566,"v":-0.3},{"c":10,"w":1566,"v":-0.4},{"c":15,"w":1566,"v":-0.3},{"c":20,"w":1566,"v":0.1},{"c":25,"w":1566,"v":-0.1},{"c":30,"w":1566,"v":-0.4},{"c":35,"w":1566,"v":-0.3},{"c":40,"w":1566,"v":0},{"c":45,"w":1566,"v":0.1},{"c":50,"w":1566,"v":-0.1},{"c":55,"w":1566,"v":-0.4},{"c":60,"w":1566,"v":-0.3},{"c":65,"w":1566,"v":0.3},{"c":70,"w":1566,"v":0.1},{"c":75,"w":1566,"v":-0.2},{"c":80,"w":1566,"v":-0.4},{"c":85,"w":1566,"v":-0.3},{"c":90,"w":1566,"v":0.1},{"c":95,"w":1566,"v":0.3},
{"c":0,"w":1569,"v":0},{"c":5,"w":1569,"v":-0.4},{"c":10,"w":1569,"v":-0.6},{"c":15,"w":1569,"v":-0.4},{"c":20,"w":1569,"v":0},{"c":25,"w":1569,"v":-0.1},{"c":30,"w":1569,"v":-0.4},{"c":35,"w":1569,"v":-0.3},{"c":40,"w":1569,"v":0},{"c":45,"w":1569,"v":0},{"c":50,"w":1569,"v":-0.1},{"c":55,"w":1569,"v":-0.5},{"c":60,"w":1569,"v":-0.4},{"c":65,"w":1569,"v":0},{"c":70,"w":1569,"v":0},{"c":75,"w":1569,"v":-0.1},{"c":80,"w":1569,"v":-0.4},{"c":85,"w":1569,"v":-0.4},{"c":90,"w":1569,"v":0},{"c":95,"w":1569,"v":0}
],
"h45":[
{"c":0,"w":1531,"v":-0.4},{"c":5,"w":1531,"v":-0.1},{"c":10,"w":1531,"v":0.9},{"c":15,"w":1531,"v":1},{"c":20,"w":1531,"v":0.9},{"c":25,"w":1531,"v":-0.1},{"c":30,"w":1531,"v":-0.2},{"c":35,"w":1531,"v":0.8},{"c":40,"w":1531,"v":1},{"c":45,"w":1531,"v":0.8},{"c":50,"w":1531,"v":-0.3},{"c":55,"w":1531,"v":-0.1},{"c":60,"w":1531,"v":1},{"c":65,"w":1531,"v":1},{"c":70,"w":1531,"v":0.8},{"c":75,"w":1531,"v":-0.3},{"c":80,"w":1531,"v":-0.3},{"c":85,"w":1531,"v":0.5},{"c":90,"w":1531,"v":1},{"c":95,"w":1531,"v":0.9},
{"c":0,"w":1534,"v":0.1},{"c":5,"w":1534,"v":0.2},{"c":10,"w":1534,"v":-0.3},{"c":15,"w":1534,"v":-0.4},{"c":20,"w":1534,"v":-0.3},{"c":25,"w":1534,"v":0.1},{"c":30,"w":1534,"v":0},{"c":35,"w":1534,"v":-0.2},{"c":40,"w":1534,"v":-0.3},{"c":45,"w":1534,"v":-0.3},{"c":50,"w":1534,"v":0.1},{"c":55,"w":1534,"v":0.1},{"c":60,"w":1534,"v":-0.2},{"c":65,"w":1534,"v":-0.4},{"c":70,"w":1534,"v":-0.3},{"c":75,"w":1534,"v":0.1},{"c":80,"w":1534,"v":0.1},{"c":85,"w":1534,"v":-0.1},{"c":90,"w":1534,"v":-0.5},{"c":95,"w":1534,"v":-0.4},
{"c":0,"w":1536,"v":0.1},{"c":5,"w":1536,"v":0.2},{"c":10,"w":1536,"v":-0.5},{"c":15,"w":1536,"v":-0.6},{"c":20,"w":1536,"v":-0.4},{"c":25,"w":1536,"v":0.1},{"c":30,"w":1536,"v":0.1},{"c":35,"w":1536,"v":-0.4},{"c":40,"w":1536,"v":-0.5},{"c":45,"w":1536,"v":-0.5},{"c":50,"w":1536,"v":0.1},{"c":55,"w":1536,"v":0},{"c":60,"w":1536,"v":-0.6},{"c":65,"w":1536,"v":-0.7},{"c":70,"w":1536,"v":-0.5},{"c":75,"w":1536,"v":0},{"c":80,"w":1536,"v":0.1},{"c":85,"w":1536,"v":-0.2},{"c":90,"w":1536,"v":-0.7},{"c":95,"w":1536,"v":-0.6},
{"c":0,"w":1539,"v":-0.2},{"c":5,"w":1539,"v":-0.1},{"c":10,"w":1539,"v":0.4},{"c":15,"w":1539,"v":0.5},{"c":20,"w":1539,"v":0.4},{"c":25,"w":1539,"v":-0.1},{"c":30,"w":1539,"v":-0.1},{"c":35,"w":1539,"v":0.4},{"c":40,"w":1539,"v":0.5},{"c":45,"w":1539,"v":0.4},{"c":50,"w":1539,"v":-0.2},{"c":55,"w":1539,"v":-0.1},{"c":60,"w":1539,"v":0.5},{"c":65,"w":1539,"v":0.5},{"c":70,"w":1539,"v":0.4},{"c":75,"w":1539,"v":-0.1},{"c":80,"w":1539,"v":-0.1},{"c":85,"w":1539,"v":0.2},{"c":90,"w":1539,"v":0.6},{"c":95,"w":1539,"v":0.5},
{"c":0,"w":1541,"v":0},{"c":5,"w":1541,"v":0},{"c":10,"w":1541,"v":-0.2},{"c":15,"w":1541,"v":-0.2},{"c":20,"w":1541,"v":-0.1},{"c":25,"w":1541,"v":0},{"c":30,"w":1541,"v":0},{"c":35,"w":1541,"v":-0.1},{"c":40,"w":1541,"v":-0.2},{"c":45,"w":1541,"v":-0.1},{"c":50,"w":1541,"v":0},{"c":55,"w":1541,"v":0},{"c":60,"w":1541,"v":-0.1},{"c":65,"w":1541,"v":-0.2},{"c":70,"w":1541,"v":-0.1},{"c":75,"w":1541,"v":0},{"c":80,"w":1541,"v":0},{"c":85,"w":1541,"v":-0.1},{"c":90,"w":1541,"v":-0.2},{"c":95,"w":1541,"v":-0.1},
{"c":0,"w":1544,"v":0.4},{"c":5,"w":1544,"v":0.2},{"c":10,"w":1544,"v":-0.6},{"c":15,"w":1544,"v":-0.8},{"c":20,"w":1544,"v":-0.6},{"c":25,"w":1544,"v":0.1},{"c":30,"w":1544,"v":0.3},{"c":35,"w":1544,"v":-0.6},{"c":40,"w":1544,"v":-0.7},{"c":45,"w":1544,"v":-0.7},{"c":50,"w":1544,"v":0.2},{"c":55,"w":1544,"v":0.2},{"c":60,"w":1544,"v":-0.6},{"c":65,"w":1544,"v":-0.9},{"c":70,"w":1544,"v":-0.6},{"c":75,"w":1544,"v":0.3},{"c":80,"w":1544,"v":0.3},{"c":85,"w":1544,"v":-0.2},{"c":90,"w":1544,"v":-0.8},{"c":95,"w":1544,"v":-0.7},
{"c":0,"w":1546,"v":0.8},{"c":5,"w":1546,"v":0.4},{"c":10,"w":1546,"v":-0.9},{"c":15,"w":1546,"v":-1.2},{"c":20,"w":1546,"v":-1},{"c":25,"w":1546,"v":0.2},{"c":30,"w":1546,"v":0.4},{"c":35,"w":1546,"v":-1},{"c":40,"w":1546,"v":-1},{"c":45,"w":1546,"v":-1},{"c":50,"w":1546,"v":0.5},{"c":55,"w":1546,"v":0.4},{"c":60,"w":1546,"v":-1},{"c":65,"w":1546,"v":-1.4},{"c":70,"w":1546,"v":-1},{"c":75,"w":1546,"v":0.5},{"c":80,"w":1546,"v":0.5},{"c":85,"w":1546,"v":-0.4},{"c":90,"w":1546,"v":-1.4},{"c":95,"w":1546,"v":-0.9},
{"c":0,"w":1549,"v":0.5},{"c":5,"w":1549,"v":0.3},{"c":10,"w":1549,"v":-1},{"c":15,"w":1549,"v":-1.2},{"c":20,"w":1549,"v":-1},{"c":25,"w":1549,"v":0.2},{"c":30,"w":1549,"v":0.3},{"c":35,"w":1549,"v":-1.1},{"c":40,"w":1549,"v":-1.2},{"c":45,"w":1549,"v":-1.1},{"c":50,"w":1549,"v":0.3},{"c":55,"w":1549,"v":0.2},{"c":60,"w":1549,"v":-1.1},{"c":65,"w":1549,"v":-1.3},{"c":70,"w":1549,"v":-1},{"c":75,"w":1549,"v":0.3},{"c":80,"w":1549,"v":0.3},{"c":85,"w":1549,"v":-0.3},{"c":90,"w":1549,"v":-1.3},{"c":95,"w":1549,"v":-1},
{"c":0,"w":1551,"v":0},{"c":5,"w":1551,"v":-0.1},{"c":10,"w":1551,"v":-0.2},{"c":15,"w":1551,"v":-0.3},{"c":20,"w":1551,"v":-0.2},{"c":25,"w":1551,"v":0},{"c":30,"w":1551,"v":0},{"c":35,"w":1551,"v":-0.2},{"c":40,"w":1551,"v":-0.3},{"c":45,"w":1551,"v":-0.2},{"c":50,"w":1551,"v":0},{"c":55,"w":1551,"v":0},{"c":60,"w":1551,"v":-0.2},{"c":65,"w":1551,"v":-0.3},{"c":70,"w":1551,"v":-0.2},{"c":75,"w":1551,"v":0},{"c":80,"w":1551,"v":-0.1},{"c":85,"w":1551,"v":-0.1},{"c":90,"w":1551,"v":-0.3},{"c":95,"w":1551,"v":-0.2},
{"c":0,"w":1554,"v":0.4},{"c":5,"w":1554,"v":0.2},{"c":10,"w":1554,"v":-0.5},{"c":15,"w":1554,"v":-0.7},{"c":20,"w":1554,"v":-0.5},{"c":25,"w":1554,"v":0.1},{"c":30,"w":1554,"v":0.3},{"c":35,"w":1554,"v":-0.5},{"c":40,"w":1554,"v":-0.7},{"c":45,"w":1554,"v":-0.6},{"c":50,"w":1554,"v":0.3},{"c":55,"w":1554,"v":0.2},{"c":60,"w":1554,"v":-0.5},{"c":65,"w":1554,"v":-0.9},{"c":70,"w":1554,"v":-0.5},{"c":75,"w":1554,"v":0.3},{"c":80,"w":1554,"v":0.3},{"c":85,"w":1554,"v":-0.2},{"c":90,"w":1554,"v":-0.9},{"c":95,"w":1554,"v":-0.6},
{"c":0,"w":1556,"v":0.3},{"c":5,"w":1556,"v":0.3},{"c":10,"w":1556,"v":-0.5},{"c":15,"w":1556,"v":-0.7},{"c":20,"w":1556,"v":-0.5},{"c":25,"w":1556,"v":0.1},{"c":30,"w":1556,"v":0.4},{"c":35,"w":1556,"v":-0.5},{"c":40,"w":1556,"v":-0.6},{"c":45,"w":1556,"v":-0.6},{"c":50,"w":1556,"v":0.4},{"c":55,"w":1556,"v":0.3},{"c":60,"w":1556,"v":-0.4},{"c":65,"w":1556,"v":-1},{"c":70,"w":1556,"v":-0.5},{"c":75,"w":1556,"v":0.4},{"c":80,"w":1556,"v":0.4},{"c":85,"w":1556,"v":-0.2},{"c":90,"w":1556,"v":-1},{"c":95,"w":1556,"v":-0.7},
{"c":0,"w":1559,"v":0.2},{"c":5,"w":1559,"v":0.2},{"c":10,"w":1559,"v":-0.2},{"c":15,"w":1559,"v":-0.5},{"c":20,"w":1559,"v":-0.3},{"c":25,"w":1559,"v":0.1},{"c":30,"w":1559,"v":0.2},{"c":35,"w":1559,"v":-0.3},{"c":40,"w":1559,"v":-0.4},{"c":45,"w":1559,"v":-0.4},{"c":50,"w":1559,"v":0.1},{"c":55,"w":1559,"v":0.1},{"c":60,"w":1559,"v":-0.2},{"c":65,"w":1559,"v":-0.6},{"c":70,"w":1559,"v":-0.3},{"c":75,"w":1559,"v":0.2},{"c":80,"w":1559,"v":0.2},{"c":85,"w":1559,"v":-0.1},{"c":90,"w":1559,"v":-0.6},{"c":95,"w":1559,"v":-0.4},
{"c":0,"w":1561,"v":0},{"c":5,"w":1561,"v":0},{"c":10,"w":1561,"v":0},{"c":15,"w":1561,"v":-0.1},{"c":20,"w":1561,"v":0},{"c":25,"w":1561,"v":0},{"c":30,"w":1561,"v":0},{"c":35,"w":1561,"v":0},{"c":40,"w":1561,"v":-0.1},{"c":45,"w":1561,"v":0},{"c":50,"w":1561,"v":0},{"c":55,"w":1561,"v":0},{"c":60,"w":1561,"v":0},{"c":65,"w":1561,"v":-0.1},{"c":70,"w":1561,"v":0},{"c":75,"w":1561,"v":0},{"c":80,"w":1561,"v":0},{"c":85,"w":1561,"v":0},{"c":90,"w":1561,"v":-0.1},{"c":95,"w":1561,"v":0},
{"c":0,"w":1564,"v":-0.2},{"c":5,"w":1564,"v":-0.2},{"c":10,"w":1564,"v":0.3},{"c":15,"w":1564,"v":0.4},{"c":20,"w":1564,"v":0.3},{"c":25,"w":1564,"v":-0.1},{"c":30,"w":1564,"v":-0.1},{"c":35,"w":1564,"v":0.3},{"c":40,"w":1564,"v":0.4},{"c":45,"w":1564,"v":0.3},{"c":50,"w":1564,"v":-0.2},{"c":55,"w":1564,"v":-0.1},{"c":60,"w":1564,"v":0.4},{"c":65,"w":1564,"v":0.5},{"c":70,"w":1564,"v":0.4},{"c":75,"w":1564,"v":-0.2},{"c":80,"w":1564,"v":-0.2},{"c":85,"w":1564,"v":0.1},{"c":90,"w":1564,"v":0.5},{"c":95,"w":1564,"v":0.4},
{"c":0,"w":1566,"v":0.3},{"c":5,"w":1566,"v":0.3},{"c":10,"w":1566,"v":-0.4},{"c":15,"w":1566,"v":-0.5},{"c":20,"w":1566,"v":-0.2},{"c":25,"w":1566,"v":0.2},{"c":30,"w":1566,"v":0.2},{"c":35,"w":1566,"v":-0.3},{"c":40,"w":1566,"v":-0.4},{"c":45,"w":1566,"v":-0.3},{"c":50,"w":1566,"v":0.2},{"c":55,"w":1566,"v":0.2},{"c":60,"w":1566,"v":-0.4},{"c":65,"w":1566,"v":-0.6},{"c":70,"w":1566,"v":-0.3},{"c":75,"w":1566,"v":0.2},{"c":80,"w":1566,"v":0.2},{"c":85,"w":1566,"v":-0.1},{"c":90,"w":1566,"v":-0.6},{"c":95,"w":1566,"v":-0.4},
{"c":0,"w":1569,"v":0.2},{"c":5,"w":1569,"v":0.2},{"c":10,"w":1569,"v":-0.3},{"c":15,"w":1569,"v":-0.4},{"c":20,"w":1569,"v":-0.2},{"c":25,"w":1569,"v":0.2},{"c":30,"w":1569,"v":0.2},{"c":35,"w":1569,"v":-0.2},{"c":40,"w":1569,"v":-0.3},{"c":45,"w":1569,"v":-0.3},{"c":50,"w":1569,"v":0.2},{"c":55,"w":1569,"v":0.1},{"c":60,"w":1569,"v":-0.3},{"c":65,"w":1569,"v":-0.5},{"c":70,"w":1569,"v":-0.3},{"c":75,"w":1569,"v":0.2},{"c":80,"w":1569,"v":0.3},{"c":85,"w":1569,"v":-0.1},{"c":90,"w":1569,"v":-0.6},{"c":95,"w":1569,"v":-0.3}
]},
"layer":[
{"data":{"values":[{"a":0,"a2":1,"b":0,"b2":1}]},"mark":{"type":"rect","fill":"transparent","stroke":"#111","strokeWidth":5,"strokeDash":[28,16],"cornerRadius":105},"encoding":{"x":{"field":"a","type":"quantitative","axis":null,"scale":{"domain":[0,1],"range":[53,3608],"nice":false,"zero":false}},"x2":{"field":"a2"},"y":{"field":"b","type":"quantitative","axis":null,"scale":{"domain":[0,1],"range":[37,2087],"nice":false,"zero":false}},"y2":{"field":"b2"}}},
{"data":{"name":"h30"},"mark":"rect","encoding":{"x":{"field":"c","type":"ordinal","axis":null,"scale":{"range":[2297,3217],"paddingInner":0,"paddingOuter":0}},"y":{"field":"w","type":"ordinal","axis":null,"scale":{"range":[268,828],"paddingInner":0,"paddingOuter":0}},"color":{"field":"v","type":"quantitative","scale":{"domain":[-2,-1.5,-1,-0.5,-0.25,0,0.25,0.5,0.75,1.2],"range":["#3c2a9e","#3e5fe8","#1f8fe0","#06b6d0","#2dc4a0","#5ccb70","#a6c340","#d3bc28","#fbb83b","#f9fb12"]},"legend":{"orient":"none","legendX":3290,"legendY":267,"title":null,"direction":"vertical","gradientLength":1443,"gradientThickness":66,"gradientStrokeColor":"#262626","gradientStrokeWidth":4,"values":[-2,-1.5,-1,-0.5,0,0.5,1],"labelFont":"Liberation Serif","labelFontSize":65,"labelColor":"#111","labelOffset":28,"labelOverlap":false,"labelFlush":false,"labelExpr":"replace(format(datum.value,'~g'),'−','-')","encode":{"labels":{"update":{"baseline":{"value":"middle"}}}}}}}},
{"data":{"name":"h35"},"mark":"rect","encoding":{"x":{"field":"c","type":"ordinal","axis":null,"scale":{"range":[361,1281],"paddingInner":0,"paddingOuter":0}},"y":{"field":"w","type":"ordinal","axis":null,"scale":{"range":[1152,1712],"paddingInner":0,"paddingOuter":0}},"color":{"field":"v","type":"quantitative","legend":null,"scale":{"domain":[-2,-1.5,-1,-0.5,-0.25,0,0.25,0.5,0.75,1.2],"range":["#3c2a9e","#3e5fe8","#1f8fe0","#06b6d0","#2dc4a0","#5ccb70","#a6c340","#d3bc28","#fbb83b","#f9fb12"]}}}},
{"data":{"name":"h40"},"mark":"rect","encoding":{"x":{"field":"c","type":"ordinal","axis":null,"scale":{"range":[1327,2247],"paddingInner":0,"paddingOuter":0}},"y":{"field":"w","type":"ordinal","axis":null,"scale":{"range":[1152,1712],"paddingInner":0,"paddingOuter":0}},"color":{"field":"v","type":"quantitative","legend":null,"scale":{"domain":[-2,-1.5,-1,-0.5,-0.25,0,0.25,0.5,0.75,1.2],"range":["#3c2a9e","#3e5fe8","#1f8fe0","#06b6d0","#2dc4a0","#5ccb70","#a6c340","#d3bc28","#fbb83b","#f9fb12"]}}}},
{"data":{"name":"h45"},"mark":"rect","encoding":{"x":{"field":"c","type":"ordinal","axis":null,"scale":{"range":[2297,3217],"paddingInner":0,"paddingOuter":0}},"y":{"field":"w","type":"ordinal","axis":null,"scale":{"range":[1152,1712],"paddingInner":0,"paddingOuter":0}},"color":{"field":"v","type":"quantitative","legend":null,"scale":{"domain":[-2,-1.5,-1,-0.5,-0.25,0,0.25,0.5,0.75,1.2],"range":["#3c2a9e","#3e5fe8","#1f8fe0","#06b6d0","#2dc4a0","#5ccb70","#a6c340","#d3bc28","#fbb83b","#f9fb12"]}}}},
{"encoding":{"x":{"field":"c","type":"quantitative","axis":null,"scale":{"domain":[0,100],"range":[361,1281],"nice":false,"zero":false}},"y":{"field":"w","type":"quantitative","axis":null,"scale":{"domain":[1530,1570],"range":[259,821],"nice":false,"zero":false}}},"layer":[
{"data":{"values":[{"c":0,"c2":100,"w":1516.5,"w2":1599.9}]},"mark":{"type":"rect","fill":"transparent","stroke":"#808080","strokeWidth":3,"strokeDash":[10,5]},"encoding":{"x2":{"field":"c2"},"y2":{"field":"w2"}}},
{"data":{"values":[{"c":0,"c2":100,"w":1530,"w2":1570}]},"mark":{"type":"rect","fill":"transparent","stroke":"#262626","strokeWidth":5.5},"encoding":{"x2":{"field":"c2"},"y2":{"field":"w2"}}},
{"data":{"values":[{"c":0,"c2":100,"w":1570}]},"mark":{"type":"rule","stroke":"#262626","strokeWidth":14},"encoding":{"x2":{"field":"c2"}}},
{"data":{"values":[{"c":0,"c2":100,"w":1550.2}]},"mark":{"type":"rule","stroke":"#262626","strokeWidth":13,"strokeDash":[30,13]},"encoding":{"x2":{"field":"c2"}}},
{"data":{"values":[{"c":-18.7,"w":1520.9,"t":"(c)"},{"c":49.2,"w":1527.8,"t":"20°C"},{"c":-10.7,"w":1531,"t":"1530"},{"c":-10.7,"w":1540.8,"t":"1540"},{"c":-10.7,"w":1550.3,"t":"1550"},{"c":-10.7,"w":1560.9,"t":"1560"},{"c":-10.7,"w":1570.6,"t":"1570"},{"c":19.8,"w":1582.6,"t":"20"},{"c":39.9,"w":1582.4,"t":"40"},{"c":59.9,"w":1582.4,"t":"60"},{"c":78.1,"w":1582.2,"t":"80"},{"c":50,"w":1587.2,"t":"Cycles"},{"c":21.1,"w":1592,"t":"100"}]},"mark":{"type":"text","align":"center","baseline":"middle"},"encoding":{"text":{"field":"t"}}},
{"data":{"values":[{"c":-26,"w":1554.8,"t":"Wavelength (nm)"}]},"mark":{"type":"text","align":"center","baseline":"middle","angle":270,"fontSize":67},"encoding":{"text":{"field":"t"}}}
]},
{"encoding":{"x":{"field":"c","type":"quantitative","axis":null,"scale":{"domain":[0,100],"range":[1329,2249],"nice":false,"zero":false}},"y":{"field":"w","type":"quantitative","axis":null,"scale":{"domain":[1530,1570],"range":[259,821],"nice":false,"zero":false}}},"layer":[
{"data":{"values":[{"c":0,"c2":100,"w":1516.5,"w2":1587.2}]},"mark":{"type":"rect","fill":"transparent","stroke":"#808080","strokeWidth":3,"strokeDash":[10,5]},"encoding":{"x2":{"field":"c2"},"y2":{"field":"w2"}}},
{"data":{"values":[{"c":0,"c2":100,"w":1530,"w2":1570}]},"mark":{"type":"rect","fill":"transparent","stroke":"#262626","strokeWidth":5.5},"encoding":{"x2":{"field":"c2"},"y2":{"field":"w2"}}},
{"data":{"values":[{"c":0,"c2":100,"w":1570}]},"mark":{"type":"rule","stroke":"#262626","strokeWidth":14},"encoding":{"x2":{"field":"c2"}}},
{"data":{"values":[{"c":0,"c2":100,"w":1550.2}]},"mark":{"type":"rule","stroke":"#262626","strokeWidth":13,"strokeDash":[30,13]},"encoding":{"x2":{"field":"c2"}}},
{"data":{"values":[{"c":49.2,"w":1527.8,"t":"25°C"},{"c":20.3,"w":1582,"t":"20"},{"c":78.4,"w":1581.6,"t":"80"},{"c":21.5,"w":1585.3,"t":"100"}]},"mark":{"type":"text","align":"center","baseline":"middle"},"encoding":{"text":{"field":"t"}}}
]},
{"encoding":{"x":{"field":"c","type":"quantitative","axis":null,"scale":{"domain":[0,100],"range":[2297,3218],"nice":false,"zero":false}},"y":{"field":"w","type":"quantitative","axis":null,"scale":{"domain":[1530,1570],"range":[268,828],"nice":false,"zero":false}}},"layer":[
{"data":{"values":[{"c":0,"c2":100,"w":1521.9,"w2":1585.1}]},"mark":{"type":"rect","fill":"transparent","stroke":"#808080","strokeWidth":3.5,"strokeDash":[22,11]},"encoding":{"x2":{"field":"c2"},"y2":{"field":"w2"}}},
{"data":{"values":[{"c":0,"c2":100,"w":1530,"w2":1570}]},"mark":{"type":"rect","fill":"transparent","stroke":"#262626","strokeWidth":5},"encoding":{"x2":{"field":"c2"},"y2":{"field":"w2"}}},
{"data":{"values":[{"c":0,"c2":100,"w":1550.5}]},"mark":{"type":"rule","stroke":"#262626","strokeWidth":9,"strokeDash":[36,23]},"encoding":{"x2":{"field":"c2"}}},
{"data":{"values":[{"c":20,"w":1569.4,"w2":1570},{"c":40,"w":1569.4,"w2":1570},{"c":60,"w":1569.4,"w2":1570},{"c":80,"w":1569.4,"w2":1570}]},"mark":{"type":"rule","stroke":"#262626","strokeWidth":4},"encoding":{"y2":{"field":"w2"}}},
{"data":{"values":[{"c":0,"c2":1,"w":1540},{"c":0,"c2":1,"w":1560}]},"mark":{"type":"rule","stroke":"#262626","strokeWidth":4},"encoding":{"x2":{"field":"c2"}}},
{"data":{"values":[{"c":49.1,"w":1526.4,"t":"30°C"},{"c":1.5,"w":1576,"t":"0"},{"c":20,"w":1576,"t":"20"},{"c":40,"w":1576,"t":"40"},{"c":60.1,"w":1576,"t":"60"},{"c":78.3,"w":1576,"t":"80"},{"c":94.7,"w":1576,"t":"100"},{"c":50.4,"w":1580.8,"t":"Cycles"}]},"mark":{"type":"text","align":"center","baseline":"middle"},"encoding":{"text":{"field":"t"}}},
{"data":{"values":[{"c":136.5,"w":1583,"t":"Power Variation (dB)"}]},"mark":{"type":"text","align":"center","baseline":"middle","angle":270,"fontSize":67},"encoding":{"text":{"field":"t"}}}
]},
{"encoding":{"x":{"field":"c","type":"quantitative","axis":null,"scale":{"domain":[0,100],"range":[361,1281],"nice":false,"zero":false}},"y":{"field":"w","type":"quantitative","axis":null,"scale":{"domain":[1530,1570],"range":[1152,1712],"nice":false,"zero":false}}},"layer":[
{"data":{"values":[{"c":0,"w":1536.4,"w2":1550},{"c":100,"w":1536.4,"w2":1550}]},"mark":{"type":"rule","stroke":"#808080","strokeWidth":3,"strokeDash":[10,5]},"encoding":{"y2":{"field":"w2"}}},
{"data":{"values":[{"c":0,"w":1550,"w2":1582.4},{"c":100,"w":1550,"w2":1582.4}]},"mark":{"type":"rule","stroke":"#262626","strokeWidth":5},"encoding":{"y2":{"field":"w2"}}},
{"data":{"values":[{"c":0,"c2":100,"w":1550}]},"mark":{"type":"rule","stroke":"#262626","strokeWidth":6},"encoding":{"x2":{"field":"c2"}}},
{"data":{"values":[{"c":0,"c2":100,"w":1570.5}]},"mark":{"type":"rule","stroke":"#262626","strokeWidth":15,"strokeDash":[38,12]},"encoding":{"x2":{"field":"c2"}}},
{"data":{"values":[{"c":0,"c2":1,"w":1540},{"c":0,"c2":1,"w":1560}]},"mark":{"type":"rule","stroke":"#262626","strokeWidth":4},"encoding":{"x2":{"field":"c2"}}},
{"data":{"values":[{"c":49.5,"w":1547.6,"t":"35°C"},{"c":-10.7,"w":1530.4,"t":"1530"},{"c":-10.7,"w":1539.9,"t":"1540"},{"c":-10.7,"w":1549.4,"t":"1550"},{"c":-10.7,"w":1560,"t":"1560"},{"c":-10.7,"w":1570.1,"t":"1570"},{"c":1,"w":1576.2,"t":"0"},{"c":19.8,"w":1602.8,"t":"20"},{"c":39.9,"w":1602.7,"t":"40"},{"c":59.9,"w":1602.7,"t":"60"},{"c":78.1,"w":1602.5,"t":"80"},{"c":50,"w":1607.4,"t":"Cycles"},{"c":21.1,"w":1612.4,"t":"100"}]},"mark":{"type":"text","align":"center","baseline":"middle"},"encoding":{"text":{"field":"t"}}},
{"data":{"values":[{"c":-26,"w":1551.5,"t":"Wavelength (nm)"}]},"mark":{"type":"text","align":"center","baseline":"middle","angle":270,"fontSize":67},"encoding":{"text":{"field":"t"}}}
]},
{"encoding":{"x":{"field":"c","type":"quantitative","axis":null,"scale":{"domain":[0,100],"range":[1329,2249],"nice":false,"zero":false}},"y":{"field":"w","type":"quantitative","axis":null,"scale":{"domain":[1530,1570],"range":[1152,1712],"nice":false,"zero":false}}},"layer":[
{"data":{"values":[{"c":0,"w":1523.6,"w2":1582.4},{"c":100,"w":1523.6,"w2":1582.4}]},"mark":{"type":"rule","stroke":"#808080","strokeWidth":3.5,"strokeDash":[16,7]},"encoding":{"y2":{"field":"w2"}}},
{"data":{"values":[{"c":0,"c2":100,"w":1537.1,"w2":1577.1}]},"mark":{"type":"rect","fill":"transparent","stroke":"#262626","strokeWidth":6},"encoding":{"x2":{"field":"c2"},"y2":{"field":"w2"}}},
{"data":{"values":[{"c":0,"c2":100,"w":1577.1}]},"mark":{"type":"rule","stroke":"#262626","strokeWidth":12},"encoding":{"x2":{"field":"c2"}}},
{"data":{"values":[{"c":0,"c2":100,"w":1557.8}]},"mark":{"type":"rule","stroke":"#262626","strokeWidth":12,"strokeDash":[38,12]},"encoding":{"x2":{"field":"c2"}}},
{"data":{"values":[{"c":0,"c2":1,"w":1540},{"c":0,"c2":1,"w":1560}]},"mark":{"type":"rule","stroke":"#262626","strokeWidth":4},"encoding":{"x2":{"field":"c2"}}},
{"data":{"values":[{"c":49.2,"w":1535,"t":"40°C"},{"c":1.5,"w":1575.9,"t":"0"},{"c":20.3,"w":1589.7,"t":"20"},{"c":40.3,"w":1589.6,"t":"40"},{"c":60.3,"w":1589.6,"t":"60"},{"c":78.4,"w":1589.5,"t":"80"},{"c":50.4,"w":1594.4,"t":"Cycles"},{"c":21.5,"w":1599.3,"t":"100"}]},"mark":{"type":"text","align":"center","baseline":"middle"},"encoding":{"text":{"field":"t"}}}
]},
{"encoding":{"x":{"field":"c","type":"quantitative","axis":null,"scale":{"domain":[0,100],"range":[2297,3218],"nice":false,"zero":false}},"y":{"field":"w","type":"quantitative","axis":null,"scale":{"domain":[1530,1570],"range":[1152,1712],"nice":false,"zero":false}}},"layer":[
{"data":{"values":[{"c":0,"c2":100,"w":1522,"w2":1588}]},"mark":{"type":"rect","fill":"transparent","stroke":"#808080","strokeWidth":3.5,"strokeDash":[22,11]},"encoding":{"x2":{"field":"c2"},"y2":{"field":"w2"}}},
{"data":{"values":[{"c":0,"c2":100,"w":1530,"w2":1570}]},"mark":{"type":"rect","fill":"transparent","stroke":"#262626","strokeWidth":5},"encoding":{"x2":{"field":"c2"},"y2":{"field":"w2"}}},
{"data":{"values":[{"c":0,"c2":100,"w":1550.6}]},"mark":{"type":"rule","stroke":"#262626","strokeWidth":9,"strokeDash":[35,24]},"encoding":{"x2":{"field":"c2"}}},
{"data":{"values":[{"c":20,"w":1569.4,"w2":1570},{"c":40,"w":1569.4,"w2":1570},{"c":60,"w":1569.4,"w2":1570},{"c":80,"w":1569.4,"w2":1570}]},"mark":{"type":"rule","stroke":"#262626","strokeWidth":4},"encoding":{"y2":{"field":"w2"}}},
{"data":{"values":[{"c":0,"c2":1,"w":1540},{"c":0,"c2":1,"w":1560}]},"mark":{"type":"rule","stroke":"#262626","strokeWidth":4},"encoding":{"x2":{"field":"c2"}}},
{"data":{"values":[{"c":49.4,"w":1526.1,"t":"45°C"},{"c":1.5,"w":1576.5,"t":"0"},{"c":20,"w":1576.5,"t":"20"},{"c":40,"w":1576.5,"t":"40"},{"c":60,"w":1576.5,"t":"60"},{"c":78.3,"w":1576.5,"t":"80"},{"c":94.7,"w":1576.5,"t":"100"},{"c":50.2,"w":1581.4,"t":"Cycles"}]},"mark":{"type":"text","align":"center","baseline":"middle"},"encoding":{"text":{"field":"t"}}}
]}
]}
